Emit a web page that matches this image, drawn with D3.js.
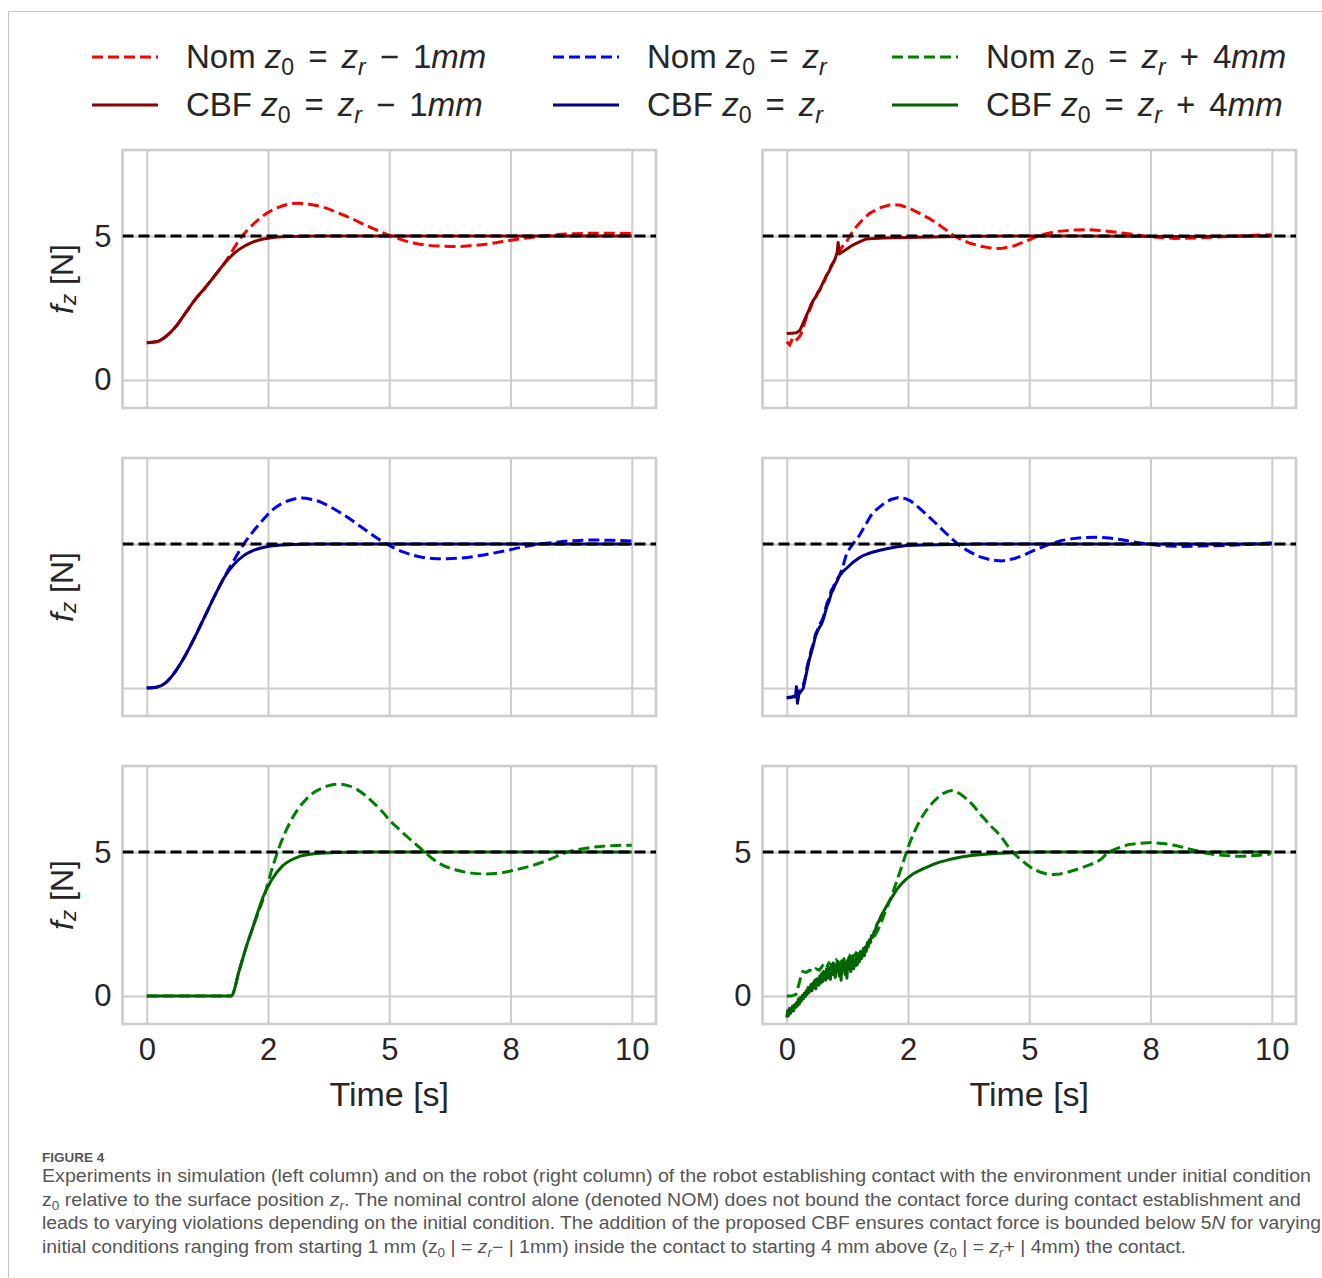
<!DOCTYPE html>
<html lang="en">
<head>
<meta charset="utf-8">
<title>Figure 4</title>
<script src="https://d3js.org/d3.v7.min.js"></script>
<style>
  body { margin: 0; background: #fff; }
  svg text { font-family: "Liberation Sans", Arial, sans-serif; }
</style>
</head>
<body>
<script>
// ---- data (time [s], force [N]) ----
var tickVals = [0, 2.5, 5, 7.5, 10];
var tickLabels = ["0", "2", "5", "8", "10"];
var yTickVals = [0, 5];
var forceLimit = 5;

// simulation, z0 = zr - 1mm
var simInsideCbf = [[0,1.30],[0.2,1.33],[0.4,1.52],[0.6,1.86],[0.8,2.33],[1.0,2.80],[1.2,3.20],[1.4,3.62],[1.6,4.05],
  [1.8,4.40],[2.0,4.64],[2.2,4.80],[2.4,4.90],[2.6,4.95],[2.8,4.98],[3.0,4.99],[3.5,5.0],[5,5.0],[7.5,5.0],[10,5.0]];
var simInsideNom = [[0,1.30],[0.2,1.33],[0.4,1.52],[0.6,1.86],[0.8,2.33],[1.0,2.80],[1.2,3.20],[1.4,3.62],[1.6,4.05],
  [1.75,4.45],[1.9,4.85],[2.1,5.25],[2.3,5.57],[2.5,5.82],[2.7,5.99],[2.9,6.10],[3.1,6.14],[3.3,6.12],[3.5,6.06],
  [3.7,5.97],[3.9,5.84],[4.1,5.70],[4.3,5.55],[4.5,5.39],[4.7,5.24],[4.9,5.09],[5.1,4.96],[5.3,4.85],[5.5,4.76],
  [5.8,4.68],[6.1,4.65],[6.4,4.64],[6.7,4.67],[7.0,4.72],[7.3,4.80],[7.6,4.88],[8.0,4.97],[8.4,5.04],[8.8,5.08],
  [9.2,5.10],[9.6,5.10],[10,5.09]];

// simulation, z0 = zr
var simAtCbf = [[0,0],[0.2,0.03],[0.4,0.2],[0.6,0.6],[0.8,1.15],[1.0,1.8],[1.2,2.5],[1.4,3.2],[1.6,3.85],[1.8,4.3],
  [2.0,4.6],[2.2,4.78],[2.4,4.88],[2.6,4.94],[2.8,4.97],[3.0,4.99],[3.5,5.0],[5,5.0],[7.5,5.0],[10,5.0]];
var simAtNom = [[0,0],[0.2,0.03],[0.4,0.2],[0.6,0.6],[0.8,1.15],[1.0,1.8],[1.2,2.5],[1.4,3.2],[1.6,3.85],[1.8,4.45],
  [2.0,5.0],[2.2,5.45],[2.4,5.85],[2.6,6.2],[2.8,6.42],[3.0,6.55],[3.2,6.6],[3.4,6.55],[3.6,6.45],[3.8,6.28],[4.0,6.08],
  [4.2,5.86],[4.4,5.62],[4.6,5.38],[4.8,5.15],[5.0,4.95],[5.3,4.72],[5.6,4.57],[5.9,4.50],[6.2,4.49],[6.5,4.52],
  [6.8,4.58],[7.1,4.67],[7.4,4.77],[7.7,4.88],[8.0,4.98],[8.4,5.06],[8.8,5.12],[9.2,5.14],[9.6,5.13],[10,5.11]];

// simulation, z0 = zr + 4mm
var simAboveCbf = [[0,0],[0.5,0],[1.0,0],[1.5,0],[1.74,0],[1.91,0.91],[2.05,1.7],[2.2,2.45],[2.4,3.45],[2.58,4.05],
  [2.8,4.52],[3.1,4.82],[3.5,4.95],[3.9,4.99],[4.5,5.0],[7.5,5.0],[10,5.0]];
var simAboveNom = [[0,0],[0.5,0],[1.0,0],[1.5,0],[1.74,0],[1.91,0.91],[2.05,1.7],[2.2,2.45],[2.43,3.52],[2.6,4.51],
  [2.74,5.21],[2.95,6.02],[3.1,6.45],[3.29,6.84],[3.45,7.08],[3.64,7.24],[3.8,7.33],[3.98,7.36],[4.15,7.31],[4.33,7.18],
  [4.5,6.98],[4.67,6.72],[4.85,6.42],[5.02,6.08],[5.2,5.8],[5.36,5.55],[5.55,5.27],[5.71,5.03],[5.9,4.76],[6.1,4.55],
  [6.4,4.37],[6.7,4.27],[7.0,4.24],[7.3,4.28],[7.7,4.42],[8.0,4.56],[8.3,4.74],[8.6,4.96],[9.0,5.12],[9.4,5.2],
  [9.7,5.23],[10,5.24]];

// robot, z0 = zr - 1mm
var robotInsideCbf = [[0,1.62],[0.1,1.63],[0.2,1.64],[0.27,1.72],[0.33,1.95],[0.4,2.22],[0.45,2.4],[0.5,2.62],[0.54,2.75],
  [0.6,2.9],[0.64,3.05],[0.68,3.12],[0.74,3.36],[0.78,3.45],[0.81,3.6],[0.88,3.8],[0.92,3.98],[0.95,4.05],[1.0,4.22],
  [1.04,4.45],[1.06,4.78],[1.08,4.38],[1.12,4.42],[1.16,4.46],[1.26,4.58],[1.36,4.69],[1.5,4.8],[1.64,4.9],[1.8,4.92],
  [2.0,4.93],[2.47,4.95],[3.0,4.97],[3.5,4.99],[4.5,5.0],[6,5.0],[8,4.99],[10,5.0]];
var robotInsideNom = [[0,1.33],[0.06,1.22],[0.12,1.45],[0.18,1.36],[0.26,1.5],[0.3,1.62],[0.4,2.15],[0.47,2.42],[0.54,2.72],
  [0.61,2.92],[0.68,3.15],[0.75,3.4],[0.81,3.6],[0.88,3.82],[0.95,4.05],[1.05,4.35],[1.13,4.6],[1.23,4.8],[1.33,5.08],
  [1.43,5.32],[1.57,5.58],[1.71,5.79],[1.9,5.97],[2.12,6.08],[2.33,6.08],[2.55,5.95],[2.74,5.79],[2.95,5.6],[3.15,5.38],
  [3.3,5.2],[3.43,5.03],[3.6,4.88],[3.78,4.75],[4.0,4.65],[4.26,4.57],[4.45,4.58],[4.67,4.65],[4.85,4.77],[5.0,4.87],
  [5.2,5.02],[5.56,5.16],[5.9,5.21],[6.23,5.22],[6.5,5.19],[6.8,5.13],[7.2,5.05],[7.53,4.97],[8.0,4.92],[8.5,4.94],
  [9.08,4.99],[9.5,5.02],[10,5.05]];

// robot, z0 = zr
var robotAtCbf = [[0,-0.33],[0.1,-0.31],[0.18,-0.3],[0.2,0.05],[0.22,-0.53],[0.25,-0.2],[0.3,-0.1],[0.34,-0.01],[0.38,0.3],
  [0.42,0.63],[0.46,0.95],[0.5,1.2],[0.55,1.5],[0.59,1.79],[0.63,1.95],[0.67,2.1],[0.71,2.2],[0.75,2.37],[0.79,2.6],
  [0.83,2.85],[0.87,3.0],[0.92,3.3],[0.96,3.42],[1.0,3.6],[1.04,3.72],[1.08,3.88],[1.16,4.05],[1.24,4.17],[1.36,4.36],
  [1.49,4.52],[1.6,4.62],[1.73,4.7],[1.9,4.78],[2.06,4.84],[2.25,4.9],[2.47,4.95],[2.8,4.97],[3.1,4.98],[4,5.0],[6,5.0],
  [8,5.0],[10,5.0]];
var robotAtNom = [[0,-0.35],[0.1,-0.32],[0.18,-0.25],[0.22,-0.45],[0.26,-0.1],[0.3,0.0],[0.34,0.1],[0.38,0.35],[0.42,0.75],
  [0.46,1.0],[0.5,1.3],[0.55,1.55],[0.59,1.85],[0.63,2.0],[0.67,2.2],[0.71,2.3],[0.75,2.45],[0.79,2.7],[0.83,2.95],
  [0.87,3.1],[0.92,3.4],[0.96,3.5],[1.0,3.7],[1.05,3.8],[1.1,3.95],[1.17,4.3],[1.24,4.7],[1.36,5.0],[1.49,5.28],[1.6,5.6],
  [1.73,5.98],[1.85,6.2],[1.98,6.38],[2.15,6.55],[2.3,6.62],[2.45,6.58],[2.55,6.5],[2.7,6.3],[2.88,6.03],[3.05,5.76],
  [3.2,5.51],[3.37,5.24],[3.53,4.99],[3.7,4.8],[3.94,4.58],[4.2,4.45],[4.43,4.41],[4.7,4.5],[4.92,4.64],[5.15,4.82],
  [5.41,4.99],[5.65,5.12],[5.9,5.19],[6.15,5.23],[6.39,5.24],[6.65,5.21],[6.88,5.16],[7.1,5.09],[7.37,5.02],[7.6,4.97],
  [7.86,4.93],[8.15,4.92],[8.43,4.93],[8.7,4.94],[9.0,4.95],[9.25,4.97],[9.49,4.99],[9.75,5.02],[10,5.05]];

// robot, z0 = zr + 4mm
var robotAboveCbf = [[0,-0.75],[0.02,-0.5],[0.04,-0.68],[0.06,-0.42],[0.08,-0.6],[0.1,-0.48],[0.12,-0.35],[0.14,-0.52],
  [0.16,-0.3],[0.18,-0.4],[0.2,-0.22],[0.22,-0.35],[0.24,-0.1],[0.26,-0.28],[0.28,-0.05],[0.3,-0.18],[0.32,0.02],
  [0.34,-0.1],[0.36,0.1],[0.38,-0.02],[0.4,0.18],[0.42,0.05],[0.44,0.3],[0.46,0.12],[0.48,0.22],[0.5,0.4],[0.52,0.18],
  [0.54,0.45],[0.56,0.3],[0.58,0.55],[0.6,0.25],[0.62,0.6],[0.64,0.42],[0.66,0.38],[0.68,0.7],[0.7,0.45],[0.72,0.78],
  [0.74,0.5],[0.76,0.85],[0.78,0.6],[0.8,0.55],[0.82,0.95],[0.84,0.62],[0.86,1.0],[0.88,0.7],[0.9,0.58],[0.92,1.05],
  [0.94,0.75],[0.96,1.15],[0.98,0.8],[1.0,0.65],[1.02,1.1],[1.04,0.85],[1.06,1.2],[1.08,0.7],[1.1,1.0],[1.12,0.55],
  [1.14,1.15],[1.16,0.9],[1.18,1.3],[1.2,0.75],[1.22,1.05],[1.24,0.62],[1.26,1.2],[1.28,0.95],[1.3,1.35],[1.32,0.85],
  [1.34,1.1],[1.36,1.4],[1.38,0.95],[1.4,1.25],[1.42,1.05],[1.44,1.45],[1.46,1.1],[1.48,1.38],[1.5,1.2],[1.52,1.55],
  [1.54,1.3],[1.56,1.45],[1.58,1.65],[1.6,1.4],[1.62,1.7],[1.64,1.55],[1.66,1.85],[1.68,1.7],[1.7,1.95],[1.72,1.85],
  [1.75,2.1],[1.78,2.05],[1.8,2.25],[1.83,2.3],[1.86,2.5],[1.9,2.6],[1.95,2.8],[2.0,2.95],[2.05,3.1],[2.1,3.25],
  [2.19,3.49],[2.26,3.68],[2.33,3.83],[2.4,3.96],[2.47,4.07],[2.6,4.24],[2.7,4.33],[2.81,4.42],[3.0,4.56],[3.15,4.65],
  [3.35,4.74],[3.57,4.82],[3.8,4.88],[3.98,4.91],[4.3,4.95],[4.67,4.98],[5.2,5.0],[7,5.0],[10,5.0]];
var robotAboveNom = [[0,0.0],[0.1,0.0],[0.19,0.06],[0.25,0.4],[0.3,0.75],[0.33,0.85],[0.4,0.82],[0.47,0.9],[0.54,0.85],
  [0.6,0.95],[0.67,0.9],[0.74,1.05],[0.8,0.95],[0.87,1.15],[0.95,1.05],[1.02,1.25],[1.09,1.1],[1.16,1.3],[1.23,1.15],
  [1.3,1.4],[1.36,1.3],[1.43,1.5],[1.5,1.45],[1.57,1.65],[1.64,1.7],[1.71,1.85],[1.78,2.0],[1.85,2.2],[1.92,2.44],
  [1.98,2.7],[2.05,3.02],[2.12,3.3],[2.19,3.6],[2.26,3.95],[2.33,4.3],[2.4,4.65],[2.47,5.0],[2.53,5.3],[2.6,5.58],
  [2.7,5.95],[2.81,6.28],[2.92,6.55],[3.02,6.74],[3.12,6.9],[3.22,7.03],[3.32,7.11],[3.4,7.14],[3.48,7.11],[3.57,7.03],
  [3.67,6.9],[3.78,6.74],[3.88,6.55],[3.98,6.33],[4.09,6.13],[4.19,5.93],[4.3,5.76],[4.4,5.58],[4.5,5.35],[4.6,5.11],
  [4.7,4.93],[4.81,4.76],[4.95,4.57],[5.08,4.41],[5.22,4.31],[5.36,4.24],[5.5,4.22],[5.63,4.24],[5.77,4.29],[5.91,4.36],
  [6.06,4.44],[6.2,4.53],[6.39,4.65],[6.5,4.78],[6.63,5.0],[6.8,5.12],[7.04,5.26],[7.3,5.31],[7.53,5.33],[7.8,5.29],
  [8.02,5.23],[8.2,5.15],[8.43,5.06],[8.6,4.98],[8.84,4.91],[9.05,4.88],[9.25,4.86],[9.45,4.86],[9.66,4.88],[9.85,4.9],
  [9.98,4.94]];

var legendPrefix = ["Nom ", "CBF "];
var legendOffsets = [["\u2212", "1"], [null, null], ["+", "4"]];

var captionTitle = "FIGURE 4";

// ---- layout ----
var W = 1322, H = 1278;
var colX = [[122.5, 656], [762.5, 1296]];
var rowY = [[150, 408], [458, 716], [766, 1024]];
var yDomain = [-0.97, 7.99];
var nomColors = ["#ff0000", "#0000ff", "#008000"];
var cbfColors = ["#8b0000", "#00008b", "#006400"];
var gridColor = "#cccccc";
var inkColor = "#262626";

var panels = [
  {row: 0, col: 0, nom: simInsideNom, cbf: simInsideCbf, sim: true, yTicks: true},
  {row: 0, col: 1, nom: robotInsideNom, cbf: robotInsideCbf, sim: false, yTicks: false},
  {row: 1, col: 0, nom: simAtNom, cbf: simAtCbf, sim: true, yTicks: false},
  {row: 1, col: 1, nom: robotAtNom, cbf: robotAtCbf, sim: false, yTicks: false},
  {row: 2, col: 0, nom: simAboveNom, cbf: simAboveCbf, sim: true, yTicks: true},
  {row: 2, col: 1, nom: robotAboveNom, cbf: robotAboveCbf, sim: false, yTicks: true}
];

var svg = d3.select("body").append("svg")
  .attr("width", W).attr("height", H);

svg.append("rect").attr("width", W).attr("height", H).attr("fill", "#fff");

// outer figure border (top + left)
svg.append("path")
  .attr("d", "M8.5,1278V11.5H1322")
  .attr("fill", "none").attr("stroke", "#c4c4c4").attr("stroke-width", 1);

// writes math-ish text pieces into a <text>; "op" pieces get mathtext-like padding
function mathText(sel, parts, size, opPad) {
  var pad = 0;
  parts.forEach(function(p) {
    var t = sel.append("tspan").text(p[0]);
    if (pad) { t.attr("dx", pad); pad = 0; }
    if (p[1] === "i" || p[1] === "isub") t.attr("font-style", "italic");
    if (p[1] === "sub" || p[1] === "isub") {
      t.attr("font-size", size * 0.7).attr("baseline-shift", -size * 0.2);
    }
    if (p[1] === "op") { t.attr("dx", opPad); pad = opPad; }
  });
}

panels.forEach(function(p, idx) {
  var x = d3.scaleLinear().domain([-0.5, 10.5]).range(colX[p.col]);
  var y = d3.scaleLinear().domain(yDomain).range([rowY[p.row][1], rowY[p.row][0]]);
  var x0 = colX[p.col][0], x1 = colX[p.col][1];
  var y0 = rowY[p.row][0], y1 = rowY[p.row][1];
  var g = svg.append("g");

  svg.append("clipPath").attr("id", "clip" + idx)
    .append("rect").attr("x", x0).attr("y", y0).attr("width", x1 - x0).attr("height", y1 - y0);

  // x grid + tick labels
  var xAxis = d3.axisBottom(x).tickValues(tickVals)
    .tickFormat(function(d, i) { return p.row === 2 ? tickLabels[i] : ""; })
    .tickSize(-(y1 - y0)).tickPadding(14);
  var gx = g.append("g").attr("transform", "translate(0," + y1 + ")").call(xAxis);
  gx.select(".domain").remove();
  gx.selectAll("line").attr("stroke", gridColor).attr("stroke-width", 2);
  gx.selectAll("text").attr("font-size", 31).attr("fill", inkColor)
    .attr("font-family", "'Liberation Sans', Arial, sans-serif");

  // y grid + tick labels
  var yAxis = d3.axisLeft(y).tickValues(yTickVals)
    .tickFormat(function(d) { return p.yTicks ? d3.format("d")(d) : ""; })
    .tickSize(-(x1 - x0)).tickPadding(11);
  var gy = g.append("g").attr("transform", "translate(" + x0 + ",0)").call(yAxis);
  gy.select(".domain").remove();
  gy.selectAll("line").attr("stroke", gridColor).attr("stroke-width", 2);
  gy.selectAll("text").attr("font-size", 31).attr("fill", inkColor)
    .attr("font-family", "'Liberation Sans', Arial, sans-serif");

  // frame
  g.append("rect").attr("x", x0).attr("y", y0)
    .attr("width", x1 - x0).attr("height", y1 - y0)
    .attr("fill", "none").attr("stroke", gridColor).attr("stroke-width", 2.6);

  var line = d3.line()
    .x(function(d) { return x(d[0]); })
    .y(function(d) { return y(d[1]); })
    .curve(p.sim ? d3.curveMonotoneX : d3.curveLinear);

  var plot = g.append("g").attr("clip-path", "url(#clip" + idx + ")");
  plot.append("path").datum(p.nom).attr("d", line)
    .attr("fill", "none").attr("stroke", nomColors[p.row])
    .attr("stroke-width", 3).attr("stroke-dasharray", "11,5");
  plot.append("path").datum(p.cbf).attr("d", line)
    .attr("fill", "none").attr("stroke", cbfColors[p.row])
    .attr("stroke-width", 3).attr("stroke-linejoin", "round");
  plot.append("line")
    .attr("x1", x0).attr("x2", x1)
    .attr("y1", y(forceLimit)).attr("y2", y(forceLimit))
    .attr("stroke", "#000").attr("stroke-width", 3).attr("stroke-dasharray", "11,5");

  // labels
  if (p.col === 0) {
    var yl = svg.append("text")
      .attr("transform", "translate(62," + ((y0 + y1) / 2) + ") rotate(-90)")
      .attr("text-anchor", "middle").attr("dominant-baseline", "central")
      .attr("font-size", 32).attr("fill", inkColor);
    mathText(yl, [["f", "i"], ["z", "isub"], [" [N]", "n"]], 32, 0);
  }
  if (p.row === 2) {
    svg.append("text")
      .attr("x", (x(0) + x(10)) / 2).attr("y", 1106)
      .attr("text-anchor", "middle").attr("font-size", 34).attr("fill", inkColor)
      .text("Time [s]");
  }
});

// ---- legend ----
var legX = [92, 553, 892];
var legY = [57, 105];
legX.forEach(function(lx, c) {
  legY.forEach(function(ly, r) {
    svg.append("line")
      .attr("x1", lx).attr("x2", lx + 66).attr("y1", ly).attr("y2", ly)
      .attr("stroke", r === 0 ? nomColors[c] : cbfColors[c])
      .attr("stroke-width", 3)
      .attr("stroke-dasharray", r === 0 ? "11,5" : null);
    var t = svg.append("text").attr("x", lx + 94).attr("y", ly + 11)
      .attr("font-size", 33).attr("fill", inkColor);
    var parts = [[legendPrefix[r], "n"], ["z", "i"], ["0", "sub"], ["=", "op"], ["z", "i"], ["r", "isub"]];
    var off = legendOffsets[c];
    if (off[0]) {
      parts.push([off[0], "op"]);
      parts.push([off[1], "n"]);
      parts.push(["mm", "i"]);
    }
    mathText(t, parts, 33, 14);
  });
});

// ---- caption ----
svg.append("text").attr("x", 42).attr("y", 1162)
  .attr("font-family", "Lato, 'Open Sans', sans-serif").attr("font-weight", "bold")
  .attr("font-size", 13.5).attr("fill", "#555").text(captionTitle);

var capLines = [
  {y: 1182, end: 1311, parts: [["Experiments in simulation (left column) and on the robot (right column) of the robot establishing contact with the environment under initial condition", "n"]]},
  {y: 1206, end: 1301, parts: [["z", "n"], ["0", "sub"], [" relative to the surface position ", "n"], ["z", "i"], ["r", "isub"],
    [". The nominal control alone (denoted NOM) does not bound the contact force during contact establishment and", "n"]]},
  {y: 1229, end: 1321, parts: [["leads to varying violations depending on the initial condition. The addition of the proposed CBF ensures contact force is bounded below 5", "n"],
    ["N", "i"], [" for varying", "n"]]},
  {y: 1253, end: 1186, parts: [["initial conditions ranging from starting 1 mm (z", "n"], ["0", "sub"], [" | = ", "n"], ["z", "i"], ["r", "isub"],
    ["\u2212 | 1mm) inside the contact to starting 4 mm above (z", "n"], ["0", "sub"], [" | = ", "n"], ["z", "i"], ["r", "isub"],
    ["+ | 4mm) the contact.", "n"]]}
];
capLines.forEach(function(l) {
  var t = svg.append("text").attr("x", 42).attr("y", l.y)
    .attr("font-family", "Lato, 'Open Sans', sans-serif")
    .attr("font-size", 17.5).attr("fill", "#555")
    .attr("textLength", l.end - 42).attr("lengthAdjust", "spacingAndGlyphs");
  mathText(t, l.parts, 17.5, 0);
});
</script>
</body>
</html>
